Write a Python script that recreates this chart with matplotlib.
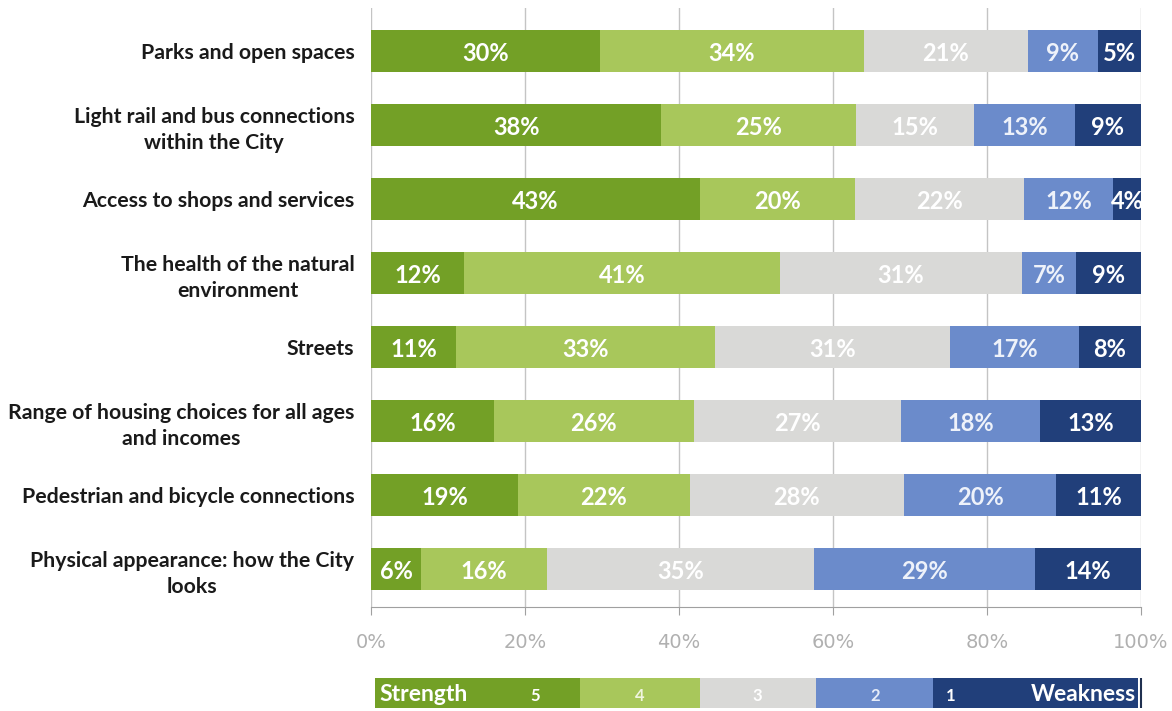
import matplotlib
matplotlib.use("Agg")
import matplotlib.pyplot as plt
from matplotlib.patches import Rectangle
import numpy as np

categories = [
    "Parks and open spaces",
    "Light rail and bus connections\nwithin the City",
    "Access to shops and services",
    "The health of the natural\nenvironment",
    "Streets",
    "Range of housing choices for all ages\nand incomes",
    "Pedestrian and bicycle connections",
    "Physical appearance: how the City\nlooks",
]
series_names = ["5", "4", "3", "2", "1"]
s5 = [29.7, 37.7, 42.7, 12.1, 11.1, 16.0, 19.1, 6.5]
s4 = [34.3, 25.3, 20.2, 41.0, 33.6, 25.9, 22.3, 16.4]
s3 = [21.3, 15.3, 21.9, 31.4, 30.5, 26.9, 27.8, 34.6]
s2 = [9.1, 13.1, 11.6, 7.1, 16.7, 18.1, 19.8, 28.7]
s1 = [5.6, 8.6, 3.6, 8.4, 8.1, 13.1, 11.0, 13.8]
labels5 = ["30%", "38%", "43%", "12%", "11%", "16%", "19%", "6%"]
labels4 = ["34%", "25%", "20%", "41%", "33%", "26%", "22%", "16%"]
labels3 = ["21%", "15%", "22%", "31%", "31%", "27%", "28%", "35%"]
labels2 = ["9%", "13%", "12%", "7%", "17%", "18%", "20%", "29%"]
labels1 = ["5%", "9%", "4%", "9%", "8%", "13%", "11%", "14%"]
xticks = [0, 20, 40, 60, 80, 100]
xticklabels = ["0%", "20%", "40%", "60%", "80%", "100%"]

colors = ["#73a026", "#a8c75b", "#d9d9d7", "#6b8bcb", "#213f7a"]
label_colors = ["white", "white", "white", "#eef2fa", "white"]

series = [s5, s4, s3, s2, s1]
series_labels = [labels5, labels4, labels3, labels2, labels1]

W, H = 1172, 711
fig = plt.figure(figsize=(W / 100, H / 100), dpi=100)
ax = fig.add_axes([371 / W, (H - 607) / H, (1141 - 371) / W, (607 - 8) / H])

y = np.arange(len(categories))
left = np.zeros(len(categories))
for vals, labs, col, lc in zip(series, series_labels, colors, label_colors):
    vals = np.array(vals)
    ax.barh(y, vals, left=left, height=0.57, color=col, edgecolor="none", zorder=2)
    for yi, (l, v, t) in enumerate(zip(left, vals, labs)):
        ax.text(l + v / 2, yi + 0.03, t, ha="center", va="center", color=lc,
                fontsize=17, fontweight="bold", family="Lato", zorder=3)
    left = left + vals

ax.set_xlim(0, 100)
ax.set_ylim(7.51, -0.58)
ax.set_yticks(y)
ax.set_yticklabels(categories, fontsize=15.3, fontweight="bold", family="Lato",
                   color="#1a1a1a", multialignment="center", linespacing=1.38)
ax.tick_params(axis="y", length=0, pad=12)
ax.set_xticks(xticks)
ax.set_xticklabels(xticklabels, fontsize=14, color="#b0b0b0", family="DejaVu Sans")
ax.tick_params(axis="x", length=6, direction="out", color="#a0a0a0", pad=13)
ax.grid(axis="x", color="#c4c4c4", linewidth=1.0, zorder=0)
for s in ["top", "right", "left"]:
    ax.spines[s].set_visible(False)
ax.spines["bottom"].set_color("#a0a0a0")

# legend strip
lax = fig.add_axes([375 / W, (H - 708) / H, (1143 - 375) / W, 30 / H])
lax.set_xlim(375, 1143)
lax.set_ylim(0, 1)
lax.axis("off")
edges = [375, 580, 700, 816, 933, 1138]
for i, col in enumerate(colors):
    lax.add_patch(Rectangle((edges[i], 0), edges[i + 1] - edges[i], 1, color=col, lw=0))
lax.plot([1141, 1141], [0, 1], color="#203050", lw=1.5)
lax.text(379, 0.45, "Strength", color="white", fontsize=16.5, fontweight="bold",
         family="Lato", ha="left", va="center")
lax.text(1136, 0.45, "Weakness", color="white", fontsize=16.5, fontweight="bold",
         family="Lato", ha="right", va="center")
digit_x = [535, 640, 757, 875, 951]
for dx, name, tc in zip(digit_x, series_names, ["white", "#f0f5e0", "white", "#e6ecf8", "white"]):
    lax.text(dx, 0.4, name, color=tc, fontsize=12, fontweight="bold",
             family="Lato", ha="center", va="center")

fig.savefig("out.png", dpi=100, facecolor="white")
